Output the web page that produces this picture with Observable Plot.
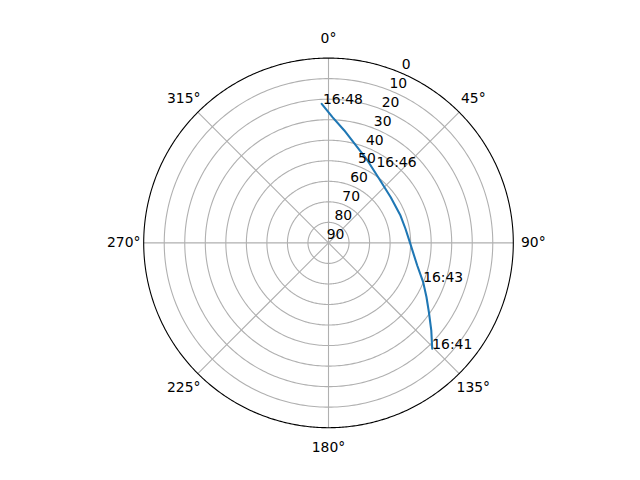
<!DOCTYPE html>
<html>
<head>
<meta charset="utf-8">
<script src="https://cdn.jsdelivr.net/npm/d3@7"></script>
<script src="https://cdn.jsdelivr.net/npm/@observablehq/plot@0.6"></script>
<style>
  html, body { margin: 0; padding: 0; background: #fff; }
  #chart svg { display: block; }
</style>
</head>
<body>
<div id="chart"></div>
<script>
// Satellite pass track (azimuth in degrees clockwise from north, elevation in degrees)
const azimuth   = [135.6, 124.6, 112.5, 104.3, 89.5, 69.2, 53.7, 38.3, 25.3, 15.7, 8.0, 1.8, -2.8];
const elevation = [17.8, 30.6, 40.1, 45.4, 50.4, 52.5, 52.4, 50.2, 45.6, 40.7, 34.7, 28.7, 22.2];

// Time labels along the track
const timeLabels = ["16:41", "16:43", "16:46", "16:48"];
const timeAz     = [135.6, 112.5, 32.4, -2.3];
const timeEl     = [17.8, 40.1, 46.4, 22.2];

// Axis ticks
const thetaTicks = [0, 45, 90, 135, 180, 225, 270, 315];
const thetaTickLabels = ["0°", "45°", "90°", "135°", "180°", "225°", "270°", "315°"];
const rTicks = [0, 10, 20, 30, 40, 50, 60, 70, 80, 90];
const rTickLabels = ["0", "10", "20", "30", "40", "50", "60", "70", "80", "90"];

// compass azimuth -> projection longitude (0 up, 90 right)
const lon = az => 180 - az;

const track = azimuth.map((a, i) => ({az: a, el: elevation[i]}));
const times = timeLabels.map((t, i) => ({t, az: timeAz[i], el: timeEl[i]}));
const rings = rTicks.filter(r => r > 0 && r < 90).map(r => d3.geoCircle().center([0, 90]).radius(90 - r).precision(1)());
const spokes = thetaTicks.map(a => ({az: a}));
const thetaLabels = thetaTicks.map((a, i) => ({az: a, label: thetaTickLabels[i]}));
const rLabels = rTicks.map((r, i) => ({el: r, label: rTickLabels[i]}));

const R = 184.8;
const labelZd = 90 * (R + 20) / R; // angular distance from center for theta labels

const font = "DejaVu Sans, sans-serif";

const chart = Plot.plot({
  width: 640,
  height: 480,
  marginTop: 57.6,
  marginBottom: 52.8,
  marginLeft: 143.2,
  marginRight: 127.2,
  style: {fontFamily: font, fontSize: "13.9px", background: "#fff", color: "#000", overflow: "visible"},
  projection: {
    type: "azimuthal-equidistant",
    rotate: [0, -90],
    clip: false,
    domain: d3.geoCircle().center([0, 90]).radius(90)()
  },
  marks: [
    // grid rings
    Plot.geo(rings, {stroke: "#b0b0b0", strokeWidth: 1.1, fill: "none"}),
    // spokes
    Plot.link(spokes, {
      x1: d => lon(d.az), y1: 90, x2: d => lon(d.az), y2: 0,
      stroke: "#b0b0b0", strokeWidth: 1.1
    }),
    // outer boundary
    Plot.geo([d3.geoCircle().center([0, 90]).radius(90).precision(0.5)()], {stroke: "#000", strokeWidth: 1.1, fill: "none"}),
    // track
    Plot.line(track, {
      x: d => lon(d.az), y: d => d.el,
      stroke: "#1f77b4", strokeWidth: 2.08
    }),
    // radial labels at 22.5°
    Plot.text(rLabels, {
      x: () => lon(22.5), y: d => d.el, text: "label",
      dx: 7, dy: -8, textAnchor: "middle", lineAnchor: "middle",
      fill: "#000", fontSize: 13.9
    }),
    // theta labels
    Plot.text(thetaLabels, {
      x: d => lon(d.az), y: 90 - labelZd, text: "label",
      textAnchor: "middle", lineAnchor: "middle",
      fill: "#000", fontSize: 13.9
    }),
    // time labels
    Plot.text(times, {
      x: d => lon(d.az), y: d => d.el, text: "t",
      textAnchor: "start", lineAnchor: "bottom",
      fill: "#000", fontSize: 13.9
    })
  ]
});

document.getElementById("chart").append(chart);
</script>
</body>
</html>
